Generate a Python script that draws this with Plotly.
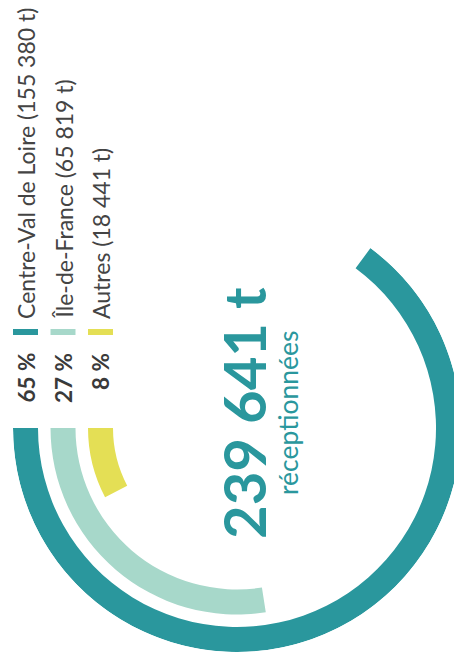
import plotly.graph_objects as go

# ---- data ----
regions = ["Centre-Val de Loire", "Île-de-France", "Autres"]
tonnes = [155380, 65819, 18441]
percent_labels = ["65 %", "27 %", "8 %"]
tonnage_labels = ["155 380 t", "65 819 t", "18 441 t"]
total_label = "239 641 t"
total_sub = "réceptionnées"

# ---- style / layout constants ----
colors = ["#2a979d", "#a7d8ca", "#e4df55"]
W, H = 462, 666
OFF = 8                    # default page body margin
FW, FH = W - OFF, H - OFF  # figure size
CX, CY = 237, 428          # ring centre in page px
R_OUT = 224                # outer radius in px
THICK = 25
GAP = 12.5

total = sum(tonnes)
widths = [t / total * 360 for t in tonnes]
bases = [R_OUT - THICK - i * (THICK + GAP) for i in range(len(tonnes))]

fig = go.Figure()
for i in range(len(tonnes)):
    fig.add_trace(go.Barpolar(
        r=[THICK], base=[bases[i]], theta=[widths[i] / 2], width=[widths[i]],
        marker=dict(color=colors[i], line=dict(width=0)),
        hoverinfo="skip", showlegend=False))

def px(x):
    return (x - OFF) / FW

def py(y):
    return 1 - (y - OFF) / FH

fig.update_layout(
    width=FW, height=FH, margin=dict(l=0, r=0, t=0, b=0),
    paper_bgcolor="white", plot_bgcolor="white",
    polar=dict(
        domain=dict(x=[px(CX - R_OUT), min(1, px(CX + R_OUT))],
                    y=[py(CY + R_OUT), py(CY - R_OUT)]),
        bgcolor="rgba(0,0,0,0)",
        radialaxis=dict(range=[0, R_OUT], visible=False, showgrid=False),
        angularaxis=dict(rotation=180, direction="counterclockwise", visible=False,
                         showgrid=False),
    ),
)

shapes = []
annotations = []
for i in range(len(tonnes)):
    x0 = CX - (bases[i] + THICK)
    x1 = CX - bases[i]
    xc = (x0 + x1) / 2
    # legend colour mark
    shapes.append(dict(type="rect", xref="paper", yref="paper",
                       x0=px(x0), x1=px(x1), y0=py(335), y1=py(329),
                       fillcolor=colors[i], line=dict(width=0)))
    annotations.append(dict(text="<b>" + percent_labels[i] + "</b>", x=px(xc), y=py(351),
                            xref="paper", yref="paper", xanchor="center", yanchor="top",
                            textangle=-90, showarrow=False,
                            font=dict(family="Lato", size=22.5, color="#3a3a3a")))
    annotations.append(dict(text=f"{regions[i]} ({tonnage_labels[i]})", x=px(xc), y=py(321),
                            xref="paper", yref="paper", xanchor="center", yanchor="bottom",
                            textangle=-90, showarrow=False,
                            font=dict(family="Lato", size=23, color="#444444")))

annotations.append(dict(text="<b>" + total_label + "</b>", x=px(243), y=py(413),
                        xref="paper", yref="paper", xanchor="center", yanchor="middle",
                        textangle=-90, showarrow=False,
                        font=dict(family="Lato", size=58, color=colors[0])))
annotations.append(dict(text=total_sub, x=px(288), y=py(413),
                        xref="paper", yref="paper", xanchor="center", yanchor="middle",
                        textangle=-90, showarrow=False,
                        font=dict(family="Lato", size=26.5, color=colors[0])))

fig.update_layout(shapes=shapes, annotations=annotations)
fig.write_html("out.html")
